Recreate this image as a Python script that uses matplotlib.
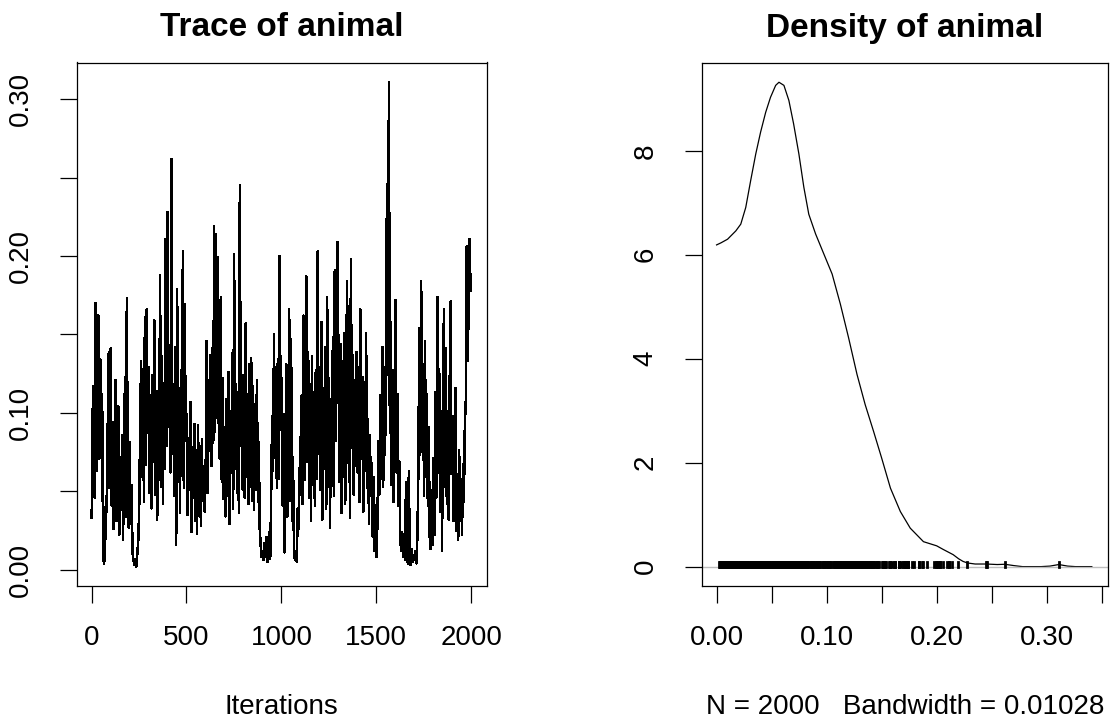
import numpy as np
import matplotlib
matplotlib.use("Agg")
import matplotlib.pyplot as plt

plt.rcParams['font.family'] = ['Liberation Sans', 'DejaVu Sans']

# ---- data ----
# trace of the chain, one value every 5 iterations (1, 6, 11, ... 1996)
trace = [
    0.033, 0.101, 0.117, 0.046, 0.170, 0.063, 0.108, 0.162, 0.071, 0.134, 0.073, 0.112, 0.008, 0.004, 0.009, 0.047, 0.037, 0.098, 0.139, 0.052,
    0.141, 0.041, 0.094, 0.026, 0.077, 0.121, 0.031, 0.058, 0.104, 0.022, 0.068, 0.044, 0.086, 0.019, 0.061, 0.123, 0.034, 0.173, 0.051, 0.027,
    0.081, 0.029, 0.054, 0.011, 0.006, 0.003, 0.007, 0.002, 0.010, 0.018, 0.038, 0.089, 0.133, 0.059, 0.128, 0.043, 0.161, 0.067, 0.166, 0.087,
    0.129, 0.049, 0.111, 0.039, 0.124, 0.069, 0.159, 0.048, 0.114, 0.032, 0.102, 0.057, 0.188, 0.053, 0.136, 0.042, 0.119, 0.064, 0.211, 0.079,
    0.228, 0.091, 0.131, 0.062, 0.262, 0.074, 0.118, 0.047, 0.142, 0.016, 0.179, 0.061, 0.116, 0.036, 0.127, 0.072, 0.203, 0.052, 0.169, 0.082,
    0.099, 0.035, 0.084, 0.051, 0.107, 0.024, 0.078, 0.046, 0.093, 0.031, 0.076, 0.023, 0.092, 0.041, 0.069, 0.028, 0.083, 0.044, 0.066, 0.037,
    0.058, 0.146, 0.049, 0.121, 0.076, 0.137, 0.066, 0.141, 0.081, 0.219, 0.088, 0.214, 0.097, 0.199, 0.071, 0.152, 0.174, 0.056, 0.122, 0.045,
    0.091, 0.034, 0.109, 0.047, 0.126, 0.029, 0.101, 0.062, 0.138, 0.039, 0.201, 0.072, 0.118, 0.049, 0.113, 0.036, 0.245, 0.079, 0.106, 0.051,
    0.124, 0.046, 0.157, 0.059, 0.112, 0.042, 0.131, 0.053, 0.135, 0.044, 0.117, 0.038, 0.103, 0.061, 0.121, 0.043, 0.081, 0.026, 0.015, 0.008,
    0.012, 0.006, 0.017, 0.008, 0.021, 0.005, 0.013, 0.024, 0.007, 0.046, 0.098, 0.063, 0.150, 0.071, 0.119, 0.052, 0.134, 0.058, 0.200, 0.089,
    0.122, 0.041, 0.099, 0.011, 0.063, 0.131, 0.034, 0.088, 0.166, 0.044, 0.147, 0.031, 0.072, 0.014, 0.006, 0.012, 0.005, 0.039, 0.026, 0.063,
    0.079, 0.111, 0.042, 0.162, 0.057, 0.132, 0.187, 0.069, 0.139, 0.046, 0.118, 0.031, 0.136, 0.054, 0.108, 0.041, 0.127, 0.058, 0.203, 0.074,
    0.129, 0.051, 0.158, 0.032, 0.116, 0.064, 0.142, 0.039, 0.174, 0.061, 0.122, 0.027, 0.109, 0.071, 0.148, 0.047, 0.191, 0.082, 0.143, 0.209,
    0.119, 0.056, 0.144, 0.036, 0.133, 0.059, 0.151, 0.042, 0.126, 0.184, 0.068, 0.141, 0.033, 0.198, 0.078, 0.137, 0.048, 0.121, 0.066, 0.139,
    0.062, 0.129, 0.043, 0.166, 0.071, 0.123, 0.037, 0.108, 0.063, 0.151, 0.052, 0.096, 0.029, 0.086, 0.047, 0.068, 0.021, 0.059, 0.012, 0.041,
    0.008, 0.032, 0.082, 0.048, 0.111, 0.058, 0.142, 0.053, 0.128, 0.073, 0.153, 0.246, 0.124, 0.311, 0.087, 0.158, 0.054, 0.127, 0.043, 0.109,
    0.172, 0.062, 0.112, 0.041, 0.069, 0.019, 0.012, 0.024, 0.008, 0.015, 0.006, 0.056, 0.010, 0.004, 0.063, 0.007, 0.003, 0.013, 0.005, 0.009,
    0.006, 0.012, 0.004, 0.021, 0.061, 0.154, 0.073, 0.184, 0.088, 0.131, 0.047, 0.146, 0.059, 0.112, 0.041, 0.091, 0.021, 0.013, 0.051, 0.016,
    0.071, 0.022, 0.113, 0.046, 0.174, 0.062, 0.128, 0.037, 0.101, 0.012, 0.122, 0.166, 0.053, 0.141, 0.042, 0.092, 0.032, 0.118, 0.171, 0.061,
    0.098, 0.031, 0.072, 0.116, 0.025, 0.061, 0.019, 0.076, 0.033, 0.057, 0.022, 0.067, 0.043, 0.093, 0.108, 0.206, 0.133, 0.168, 0.211, 0.178,
]
iter_step = 5
iterations = np.arange(len(trace)) * iter_step + 1

# density curve (x, y) as drawn
dens_x = [0.000, 0.004, 0.010, 0.0175, 0.022, 0.0265, 0.031, 0.0356, 0.040, 0.0446,
          0.049, 0.0537, 0.0567, 0.0612, 0.0657, 0.070, 0.0748, 0.0793, 0.0838, 0.090,
          0.097, 0.105, 0.1125, 0.120, 0.1276, 0.135, 0.1427, 0.150, 0.158, 0.167,
          0.176, 0.188, 0.200, 0.206, 0.215, 0.220, 0.224, 0.228, 0.235, 0.245,
          0.255, 0.262, 0.270, 0.278, 0.295, 0.303, 0.311, 0.319, 0.326, 0.341]
dens_y = [6.19, 6.23, 6.30, 6.46, 6.59, 6.91, 7.43, 7.94, 8.36, 8.74,
          9.03, 9.26, 9.32, 9.26, 8.97, 8.52, 7.94, 7.30, 6.78, 6.40,
          6.04, 5.63, 5.05, 4.40, 3.70, 3.12, 2.60, 2.09, 1.51, 1.06,
          0.74, 0.48, 0.40, 0.33, 0.23, 0.15, 0.10, 0.07, 0.05, 0.05,
          0.04, 0.045, 0.02, 0.0, 0.0, 0.01, 0.04, 0.01, 0.0, 0.0]

n_samples = 2000
bandwidth = 0.01028

trace_yticks = [0.0, 0.05, 0.10, 0.15, 0.20, 0.25, 0.30]
trace_ylabels = ['0.00', '', '0.10', '', '0.20', '', '0.30']
trace_xticks = [0, 500, 1000, 1500, 2000]
dens_xticks = [0.0, 0.05, 0.10, 0.15, 0.20, 0.25, 0.30, 0.35]
dens_xlabels = ['0.00', '', '0.10', '', '0.20', '', '0.30', '']
dens_yticks = [0, 2, 4, 6, 8]

# ---- figure ----
W, H = 1112, 722
fig = plt.figure(figsize=(W / 100, H / 100), dpi=100)


def box(x0, y0, x1, y1):
    return [x0 / W, 1 - y1 / H, (x1 - x0) / W, (y1 - y0) / H]


def style(ax):
    for s in ax.spines.values():
        s.set_linewidth(0.9)
    ax.tick_params(direction='out', length=12, width=0.9, labelsize=20,
                   top=False, right=False)
    ax.tick_params(axis='x', pad=16)
    ax.tick_params(axis='y', pad=19)


ax1 = fig.add_axes(box(76.5, 62.5, 486.5, 586))
ax1.plot(iterations, trace, color='black', lw=1.1, antialiased=False)
ax1.set_xlim(-79, 2080)
ax1.set_ylim(-0.0104, 0.3234)
ax1.set_xticks(trace_xticks)
ax1.set_yticks(trace_yticks)
ax1.set_yticklabels(trace_ylabels, rotation=90, va='center')
style(ax1)

ax2 = fig.add_axes(box(701.5, 62.5, 1108, 586))
ax2.plot(dens_x, dens_y, color='black', lw=0.9)
ax2.axhline(0, color='#bebebe', lw=1)
rug = ax2.vlines(trace, 0, max(dens_y) / 100, color='black', lw=2.0)
rug.set_capstyle('projecting')
ax2.set_xlim(-0.0137, 0.3557)
ax2.set_ylim(-0.373, 9.70)
ax2.set_xticks(dens_xticks)
ax2.set_xticklabels(dens_xlabels)
ax2.set_yticks(dens_yticks)
ax2.set_yticklabels([str(v) for v in dens_yticks], rotation=90, va='center')
style(ax2)

fig.text(281.5 / W, 1 - 28 / H, 'Trace of animal', ha='center', va='center',
         fontsize=24, fontweight='bold')
fig.text(905 / W, 1 - 28 / H, 'Density of animal', ha='center', va='center',
         fontsize=24, fontweight='bold')
fig.text(281.5 / W, 1 - 707 / H, 'Iterations', ha='center', va='center', fontsize=20)
fig.text(905 / W, 1 - 707 / H, 'N = %d   Bandwidth = %.5f' % (n_samples, bandwidth),
         ha='center', va='center', fontsize=20)

fig.savefig('out.png', dpi=100)
